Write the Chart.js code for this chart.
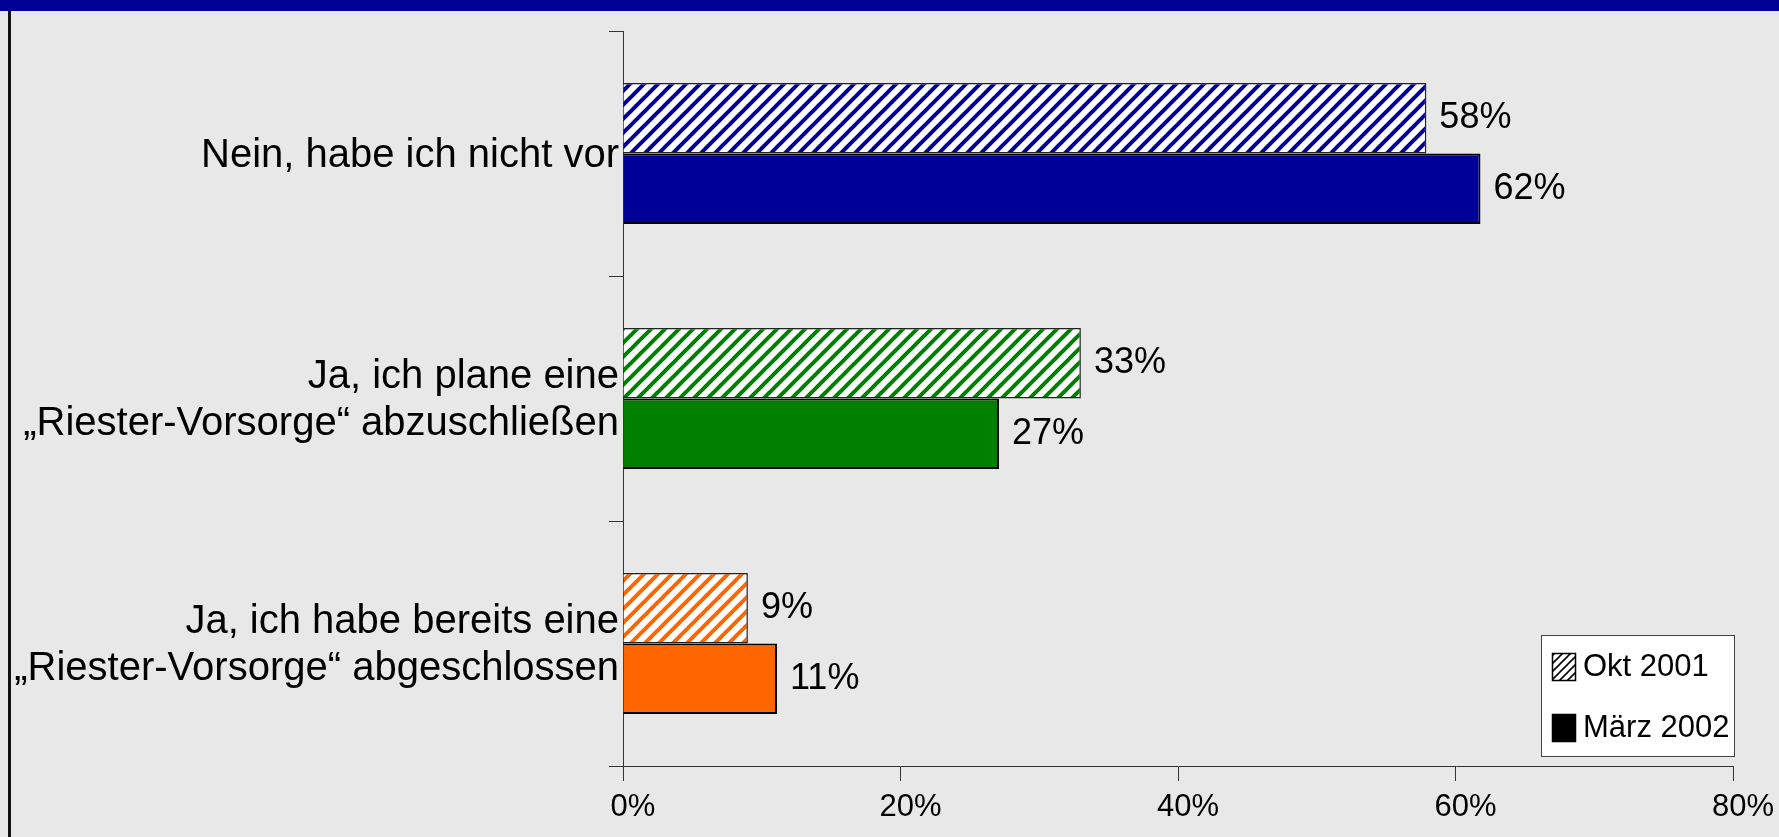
<!DOCTYPE html>
<html>
<head>
<meta charset="utf-8">
<title>Riester-Vorsorge</title>
<script src="https://cdn.jsdelivr.net/npm/chart.js@4.4.1/dist/chart.umd.min.js"></script>
<style>
  body { margin:0; padding:0; background:#e8e8e8; overflow:hidden; }
  canvas { display:block; }
</style>
</head>
<body>
<canvas id="mycanvas" width="1779" height="837"></canvas>
<script>

// ---- data ----
var categories = [
  ["Nein, habe ich nicht vor"],
  ["Ja, ich plane eine", "\u201eRiester-Vorsorge\u201c abzuschlie\u00dfen"],
  ["Ja, ich habe bereits eine", "\u201eRiester-Vorsorge\u201c abgeschlossen"]
];
var seriesNames = ["Okt 2001", "M\u00e4rz 2002"];
var okt2001   = [57.9, 33.0, 9.0];
var maerz2002 = [61.8, 27.1, 11.1];
var xTicks = [0, 20, 40, 60, 80];

var barColors = ["#000099", "#008000", "#ff6600"];
var FONT = "'Liberation Sans', Arial, Helvetica, sans-serif";

// diagonal hatch "/" on white
function hatch(color, size, lw) {
  var c = document.createElement("canvas");
  c.width = size; c.height = size;
  var g = c.getContext("2d");
  g.fillStyle = "#ffffff";
  g.fillRect(0, 0, size, size);
  g.strokeStyle = color;
  g.lineWidth = lw;
  for (var k = 0; k < 3; k++) {
    var off = k * size;
    g.beginPath();
    g.moveTo(-2, off + 2);
    g.lineTo(size + 2, off - size - 2);
    g.stroke();
  }
  return g.createPattern(c, "repeat");
}

var hatchFills = barColors.map(function(col){ return hatch(col, 14, 4); });

// background, top band and left frame line
var framePlugin = {
  id: "frame",
  beforeDraw: function(chart) {
    var ctx = chart.ctx;
    ctx.save();
    ctx.fillStyle = "#e8e8e8";
    ctx.fillRect(0, 0, chart.width, chart.height);
    ctx.fillStyle = "#000099";
    ctx.fillRect(0, 0, chart.width, 11);
    ctx.fillStyle = "#111";
    ctx.fillRect(8, 11, 3, chart.height - 11);
    ctx.restore();
  }
};

// percent labels at the end of each bar
var valuePlugin = {
  id: "values",
  afterDatasetsDraw: function(chart) {
    var ctx = chart.ctx;
    ctx.save();
    ctx.font = "36px " + FONT;
    ctx.fillStyle = "#000";
    ctx.textAlign = "left";
    ctx.textBaseline = "middle";
    chart.data.datasets.forEach(function(ds, i) {
      chart.getDatasetMeta(i).data.forEach(function(bar, j) {
        ctx.fillText(Math.round(ds.data[j]) + "%", bar.x + 13, bar.y);
      });
    });
    ctx.restore();
  }
};

// boxed legend in the lower right corner
var legendPlugin = {
  id: "boxlegend",
  afterDraw: function(chart) {
    var ctx = chart.ctx;
    var bx = 1541, by = 635, bw = 193, bh = 121;
    ctx.save();
    ctx.fillStyle = "#fff";
    ctx.fillRect(bx, by, bw, bh);
    ctx.strokeStyle = "#444";
    ctx.lineWidth = 1;
    ctx.strokeRect(bx + 0.5, by + 0.5, bw, bh);

    var swatches = [hatch("#000", 8, 1.6), "#000"];
    var rowsY = [667, 728];
    ctx.font = "31px " + FONT;
    ctx.textBaseline = "middle";
    ctx.textAlign = "left";
    for (var i = 0; i < seriesNames.length; i++) {
      ctx.fillStyle = swatches[i];
      ctx.fillRect(1552, rowsY[i] - 14, 24, 28);
      ctx.strokeStyle = "#000";
      ctx.lineWidth = 1.5;
      ctx.strokeRect(1552.5, rowsY[i] - 13.5, 23, 27);
      ctx.fillStyle = "#000";
      ctx.fillText(seriesNames[i], 1583, rowsY[i]);
    }
    ctx.restore();
  }
};

var data = {
  labels: categories,
  datasets: [
    {
      label: seriesNames[0],
      data: okt2001,
      backgroundColor: hatchFills,
      borderColor: "#222",
      borderWidth: 1.5
    },
    {
      label: seriesNames[1],
      data: maerz2002,
      backgroundColor: barColors,
      borderColor: "#000",
      borderWidth: 2
    }
  ]
};

var opts = {
  indexAxis: "y",
  responsive: false,
  animation: false,
  devicePixelRatio: 1,
  layout: { padding: { top: 31, right: 46, bottom: 0, left: 0 } },
  datasets: { bar: { categoryPercentage: 0.575, barPercentage: 1.0 } },
  plugins: { legend: { display: false }, tooltip: { enabled: false } },
  scales: {
    x: {
      min: 0, max: 80,
      afterBuildTicks: function(scale) {
        scale.ticks = xTicks.map(function(v){ return { value: v }; });
      },
      ticks: {
        callback: function(v) { return v + "%"; },
        font: { family: FONT, size: 31 },
        color: "#000",
        padding: 8,
        labelOffset: 10,
        maxRotation: 0
      },
      grid: { drawOnChartArea: false, drawTicks: true, tickLength: 15, color: "#333" },
      border: { display: true, color: "#333", width: 1 },
      afterFit: function(scale) { scale.height = 71; }
    },
    y: {
      ticks: {
        font: { family: FONT, size: 40, lineHeight: 1.17 },
        color: "#000",
        padding: -10,
        labelOffset: 2
      },
      grid: { drawOnChartArea: false, drawTicks: true, tickLength: 14, color: "#333", offset: true },
      border: { display: true, color: "#333", width: 1 },
      afterFit: function(scale) {
        scale.width = 623;
        scale.paddingTop = 0;
        scale.paddingBottom = 0;
      }
    }
  }
};

window.onload = function() {
  new Chart(document.getElementById("mycanvas").getContext("2d"), {
    type: "bar",
    data: data,
    options: opts,
    plugins: [framePlugin, valuePlugin, legendPlugin]
  });
};
</script>
</body>
</html>
